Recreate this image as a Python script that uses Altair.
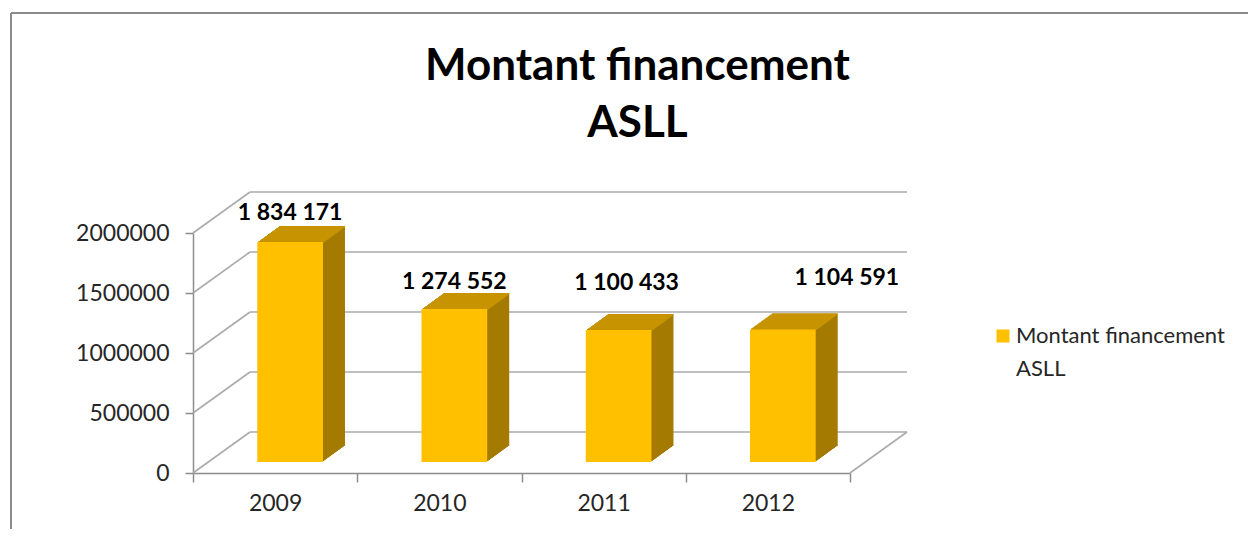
import altair as alt
import pandas as pd

# ---------------- data ----------------
years = ["2009", "2010", "2011", "2012"]
amounts = [1834171, 1274552, 1100433, 1104591]
y_ticks = [0, 500000, 1000000, 1500000, 2000000]
series_name = "Montant financement ASLL"
legend_lines = ["Montant financement", "ASLL"]     # how the legend wraps the series name
title_lines = ["Montant financement", "ASLL"]

df = pd.DataFrame({"year": years, "v": amounts, "serie": [series_name] * len(years)})
ticks_df = pd.DataFrame({"t": y_ticks})
one_df = pd.DataFrame({"a": [0]})

# ---------------- style ----------------
W, H = 657, 240
WALL_DX, WALL_DY = 57, 41          # depth of the 3-D box (px)
BAR_DX, BAR_DY = 15, 11            # bars sit half way into the box
STEPS = 16
SIDE_DX, SIDE_DY = 22, 16          # bar depth (px)
FRONT, TOP, SIDE = "#FFC000", "#C79400", "#A47B00"
GRID = "#ABABAB"
AXIS = "#8C8C8C"
FONT = "Lato"
TXT = "#262626"

yscale = alt.Scale(domain=[0, 2000000], nice=False, zero=True)
xscale = alt.Scale(domain=years, paddingInner=0, paddingOuter=0)

x_axis = alt.Axis(title=None, labelFont=FONT, labelFontSize=23, labelColor=TXT,
                  labelPadding=10, labelAngle=0, tickBand="extent", tickSize=9,
                  tickColor=AXIS, tickWidth=1.5, domainColor=AXIS, domainWidth=1.5,
                  grid=False)
y_axis = alt.Axis(title=None, values=y_ticks, format="d", labelFont=FONT,
                  labelFontSize=23, labelColor=TXT, labelPadding=16, tickSize=8,
                  tickColor=AXIS, tickWidth=1.5, domainColor=AXIS, domainWidth=1.5,
                  grid=False)


def X():
    return alt.X("year:N", sort=years, scale=xscale, axis=x_axis)


def Y(field="v"):
    return alt.Y(f"{field}:Q", scale=yscale, axis=y_axis)


layers = []

# border of the chart area (cropped, only top and left visible)
layers.append(alt.Chart(one_df).mark_rule(color="#8C8C8C", strokeWidth=2).encode(
    x=alt.value(-182), x2=alt.value(1100), y=alt.value(-220)))
layers.append(alt.Chart(one_df).mark_rule(color="#8C8C8C", strokeWidth=2).encode(
    x=alt.value(-182), y=alt.value(-220), y2=alt.value(400)))

# back wall gridlines
layers.append(alt.Chart(ticks_df).mark_rule(
    color=GRID, strokeWidth=1.6, xOffset=WALL_DX, x2Offset=WALL_DX,
    yOffset=-WALL_DY, y2Offset=-WALL_DY).encode(
    x=alt.value(0), x2=alt.value(W), y=Y("t"), y2=alt.Y2("t:Q")))
# side wall slanted lines
layers.append(alt.Chart(ticks_df).mark_rule(
    color=GRID, strokeWidth=1.6, x2Offset=WALL_DX, y2Offset=-WALL_DY).encode(
    x=alt.value(0), x2=alt.value(0), y=Y("t"), y2=alt.Y2("t:Q")))
# floor right edge
layers.append(alt.Chart(ticks_df).transform_filter(alt.datum.t == 0).mark_rule(
    color=GRID, strokeWidth=1.6, x2Offset=WALL_DX, y2Offset=-WALL_DY).encode(
    x=alt.value(W), x2=alt.value(W), y=Y("t"), y2=alt.Y2("t:Q")))

bw = alt.RelativeBandSize(0.4)

# extruded depth of the bars (side colour)
for i in range(1, STEPS + 1):
    dx = BAR_DX + SIDE_DX * i / STEPS
    dy = -BAR_DY - SIDE_DY * i / STEPS
    layers.append(alt.Chart(df).mark_bar(
        color=SIDE, width=bw, xOffset=dx, x2Offset=dx, yOffset=dy, y2Offset=dy).encode(
        x=X(), y=Y()))
# top faces
for i in range(1, STEPS + 1):
    dx = BAR_DX + SIDE_DX * i / STEPS
    dy = -BAR_DY - SIDE_DY * i / STEPS
    layers.append(alt.Chart(df).mark_bar(
        color=TOP, width=bw, xOffset=dx, x2Offset=dx, yOffset=dy, y2Offset=dy + 1.6).encode(
        x=X(), y=Y(), y2=alt.Y2("v:Q")))

# front faces (carry the legend; the series name is wrapped over two legend rows,
# the second row has an invisible swatch)
layers.append(alt.Chart(df).mark_bar(
    width=bw, xOffset=BAR_DX, x2Offset=BAR_DX, yOffset=-BAR_DY, y2Offset=-BAR_DY).encode(
    x=X(), y=Y(),
    color=alt.Color(
        "serie:N",
        scale=alt.Scale(domain=[series_name, legend_lines[1]], range=[FRONT, "transparent"]),
        legend=alt.Legend(title=None, orient="none", legendX=799, legendY=92,
                          symbolType="square", symbolSize=169, symbolStrokeWidth=0,
                          labelFont=FONT, labelFontSize=22, labelColor=TXT, labelOffset=2,
                          labelLimit=400, rowPadding=11,
                          labelExpr=f"datum.label == '{series_name}' ? '{legend_lines[0]}' : datum.label",
                          padding=0))))

# value labels (Excel placed them individually)
label_shift = {"2009": (15, -40), "2010": (15, -38), "2011": (23, -58), "2012": (79, -62)}
for yr in years:
    sx, sy = label_shift[yr]
    layers.append(alt.Chart(df).transform_filter(alt.datum.year == yr).transform_calculate(
        lab="replace(replace(format(datum.v, ','), ',', ' '), ',', ' ')").mark_text(
        font=FONT, fontSize=23, fontWeight="bold", color="black",
        align="center", baseline="middle", dx=sx, dy=sy).encode(
        x=X(), y=Y(), text="lab:N"))

chart = alt.layer(*layers).properties(
    width=W, height=H,
    padding={"left": 185, "top": 225, "right": 398, "bottom": 56},
    autosize=alt.AutoSizeParams(type="none"),
    background="white",
    title=alt.TitleParams(text=title_lines, font=FONT, fontSize=44, fontWeight="bold",
                          color="black", lineHeight=57, anchor="middle", dx=116,
                          offset=-134),
).configure_view(stroke=None)

chart.save("out.html", embed_options={"renderer": "svg", "actions": False})
